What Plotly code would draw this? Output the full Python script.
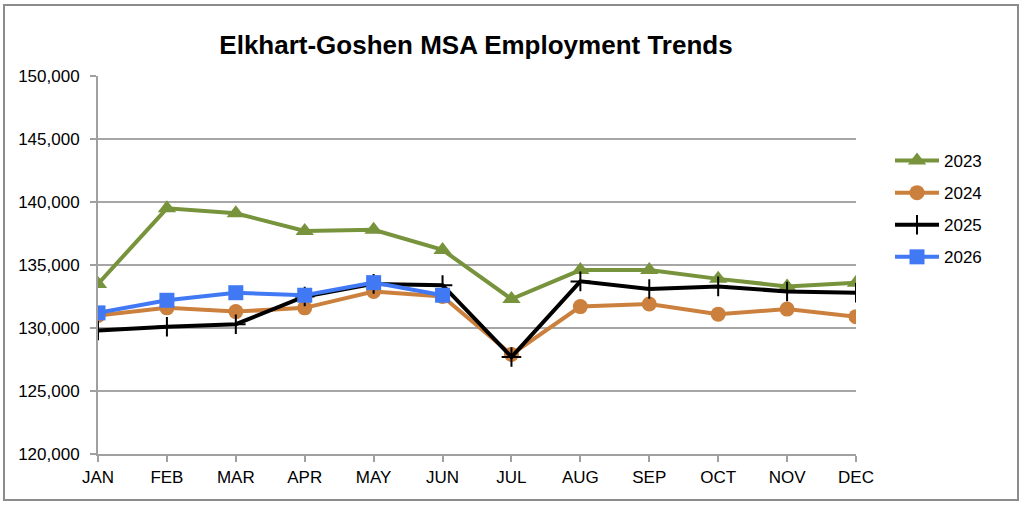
import plotly.graph_objects as go

months = ["JAN", "FEB", "MAR", "APR", "MAY", "JUN",
          "JUL", "AUG", "SEP", "OCT", "NOV", "DEC"]

emp_2023 = [133500, 139500, 139100, 137700, 137800, 136200,
            132300, 134600, 134600, 133900, 133300, 133600]
emp_2024 = [131000, 131600, 131300, 131600, 132900, 132500,
            127900, 131700, 131900, 131100, 131500, 130900]
emp_2025 = [129800, 130100, 130300, 132500, 133500, 133400,
            127700, 133700, 133100, 133300, 132900, 132800]
emp_2026 = [131200, 132200, 132800, 132600, 133600, 132600]

fig = go.Figure()

# 各年份的線條
fig.add_trace(go.Scatter(
    x=months, y=emp_2023, name="2023", mode="lines+markers",
    line=dict(color="#77933C", width=4),
    marker=dict(symbol="triangle-up", size=16, color="#77933C"),
    legendgroup="a"))
fig.add_trace(go.Scatter(
    x=months, y=emp_2024, name="2024", mode="lines+markers",
    line=dict(color="#CC803D", width=4),
    marker=dict(symbol="circle", size=15, color="#CC803D"),
    legendgroup="b"))
fig.add_trace(go.Scatter(
    x=months, y=emp_2025, name="2025", mode="lines+markers",
    line=dict(color="#000000", width=4),
    marker=dict(symbol="cross-thin", size=14,
                line=dict(color="#000000", width=2)),
    legendgroup="c"))
fig.add_trace(go.Scatter(
    x=months[:len(emp_2026)], y=emp_2026, name="2026", mode="lines+markers",
    line=dict(color="#4179F5", width=4),
    marker=dict(symbol="square", size=15, color="#4179F5"),
    legendgroup="d"))

# 外框
w, h = 1024, 506
ml, mr, mt, mb = 98, 168, 76, 52
pw, ph = w - ml - mr, h - mt - mb
fig.add_shape(type="rect", xref="paper", yref="paper",
              x0=(4 - ml) / pw, x1=(1018 - ml) / pw,
              y0=(h - mb - 500) / ph, y1=(h - mb - 5) / ph,
              line=dict(color="#8C8C8C", width=2), layer="below")

fig.update_layout(
    width=w, height=h,
    margin=dict(l=ml, r=mr, t=mt, b=mb),
    paper_bgcolor="white", plot_bgcolor="white",
    font=dict(family="Liberation Sans, Arial", size=17, color="#000000"),
    title=dict(text="<b>Elkhart-Goshen MSA Employment Trends</b>",
               x=476 / w, xanchor="center",
               y=1 - 45 / h, yanchor="middle",
               font=dict(size=26)),
    legend=dict(x=(890 - ml) / pw, y=(h - mb - 143) / ph,
                xanchor="left", yanchor="top",
                itemwidth=44, tracegroupgap=7, font=dict(size=17),
                traceorder="grouped"),
    showlegend=True,
)
fig.update_xaxes(type="category", range=[0, 11], showgrid=False,
                 showline=True, linecolor="#A0A0A0", linewidth=2,
                 ticks="outside", ticklen=6, tickcolor="#A0A0A0",
                 tickwidth=2, ticklabelstandoff=1,
                 tickfont=dict(size=17))
fig.update_yaxes(range=[120000, 150000], dtick=5000, tickformat=",",
                 showgrid=True, gridcolor="#A6A6A6", gridwidth=2,
                 showline=True, linecolor="#A0A0A0", linewidth=2,
                 ticks="outside", ticklen=6, tickcolor="#A0A0A0",
                 tickwidth=2, ticklabelstandoff=7,
                 tickfont=dict(size=17), zeroline=False)

fig.write_html("out.html", config={"displayModeBar": False},
               post_script="document.body.style.margin='0';")
